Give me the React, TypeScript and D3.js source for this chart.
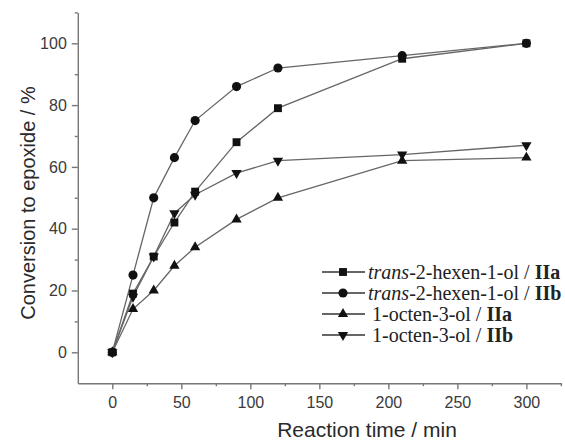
import React, {useEffect, useRef} from 'react';
import * as d3 from 'd3';

// reaction times (min) and conversions (%)
const times = [0, 15, 30, 45, 60, 90, 120, 210, 300];
const hexenIIa = [0, 19, 31, 42, 52, 68, 79, 95, 100];
const hexenIIb = [0, 25, 50, 63, 75, 86, 92, 96, 100];
const octenIIa = [0, 14, 20, 28, 34, 43, 50, 62, 63];
const octenIIb = [0, 18, 31, 45, 51, 58, 62, 64, 67];

const xTicks = [0, 50, 100, 150, 200, 250, 300];
const xMinor = [25, 75, 125, 175, 225, 275, 325];
const yTicks = [0, 20, 40, 60, 80, 100];
const yMinor = [10, 30, 50, 70, 90, 110];

const series = [
  {values: hexenIIa, symbol: d3.symbolSquare, size: 62, rotate: 0, italic: 'trans', text: '-2-hexen-1-ol / ', bold: 'IIa'},
  {values: hexenIIb, symbol: d3.symbolCircle, size: 66, rotate: 0, italic: 'trans', text: '-2-hexen-1-ol / ', bold: 'IIb'},
  {values: octenIIa, symbol: d3.symbolTriangle, size: 46, rotate: 0, italic: '', text: '1-octen-3-ol / ', bold: 'IIa'},
  {values: octenIIb, symbol: d3.symbolTriangle, size: 46, rotate: 180, italic: '', text: '1-octen-3-ol / ', bold: 'IIb'}
];

const W = 565;
const H = 441;

export default function App() {
  const ref = useRef<SVGSVGElement>(null);

  useEffect(() => {
    const svg = d3.select(ref.current);
    svg.selectAll('*').remove();

    const x = d3.scaleLinear().domain([-25, 325]).range([77.8, 560.9]);
    const y = d3.scaleLinear().domain([-10, 110]).range([383.2, 12.4]);

    const axisColor = '#777';
    const sans = '"Liberation Sans", Arial, sans-serif';

    // axes
    const gx = svg.append('g').attr('transform', `translate(0,${y(-10)})`);
    gx.call(d3.axisBottom(x).tickValues(xTicks).tickSize(6).tickSizeOuter(0).tickPadding(7));
    const gxm = svg.append('g').attr('transform', `translate(0,${y(-10)})`);
    gxm.call(d3.axisBottom(x).tickValues(xMinor).tickSize(3).tickSizeOuter(0).tickFormat(() => ''));
    gxm.select('.domain').remove();

    const gy = svg.append('g').attr('transform', `translate(${x(-25)},0)`);
    gy.call(d3.axisLeft(y).tickValues(yTicks).tickSize(6).tickSizeOuter(0).tickPadding(5));
    const gym = svg.append('g').attr('transform', `translate(${x(-25)},0)`);
    gym.call(d3.axisLeft(y).tickValues(yMinor).tickSize(3).tickSizeOuter(0).tickFormat(() => ''));
    gym.select('.domain').remove();

    svg.selectAll('.domain, .tick line')
      .attr('stroke', axisColor)
      .attr('stroke-width', 1.4);
    svg.selectAll('.tick text')
      .attr('fill', '#3a3a3a')
      .style('font-family', sans)
      .style('font-size', '16px');

    // axis titles
    svg.append('text')
      .attr('x', 367)
      .attr('y', 437)
      .attr('text-anchor', 'middle')
      .attr('fill', '#2a2a2a')
      .style('font-family', sans)
      .style('font-size', '21px')
      .text('Reaction time / min');

    svg.append('text')
      .attr('transform', 'translate(35,203) rotate(-90)')
      .attr('text-anchor', 'middle')
      .attr('fill', '#2a2a2a')
      .style('font-family', sans)
      .style('font-size', '20px')
      .text('Conversion to epoxide / %');

    // lines and markers
    const line = d3.line<number>()
      .x((d, i) => x(times[i]))
      .y(d => y(d));

    series.forEach(s => {
      svg.append('path')
        .attr('d', line(s.values))
        .attr('fill', 'none')
        .attr('stroke', '#666')
        .attr('stroke-width', 1.3);
    });

    series.forEach(s => {
      const sym = d3.symbol().type(s.symbol).size(s.size);
      svg.append('g')
        .selectAll('path')
        .data(s.values)
        .enter()
        .append('path')
        .attr('d', sym)
        .attr('fill', '#111')
        .attr('transform', (d, i) => `translate(${x(times[i])},${y(d)}) rotate(${s.rotate})`);
    });

    // legend
    const legend = svg.append('g');
    series.forEach((s, i) => {
      const cy = 272 + i * 21;
      legend.append('line')
        .attr('x1', 322)
        .attr('x2', 365)
        .attr('y1', cy)
        .attr('y2', cy)
        .attr('stroke', '#333')
        .attr('stroke-width', 1.3);
      legend.append('path')
        .attr('d', d3.symbol().type(s.symbol).size(s.size)())
        .attr('fill', '#111')
        .attr('transform', `translate(343,${cy}) rotate(${s.rotate})`);
      const t = legend.append('text')
        .attr('x', s.italic ? 368 : 372)
        .attr('y', cy + 6.5)
        .attr('fill', '#222')
        .style('font-family', '"Liberation Serif", "Times New Roman", serif')
        .style('font-size', '20px');
      if (s.italic) t.append('tspan').style('font-style', 'italic').text(s.italic);
      t.append('tspan').text(s.text);
      t.append('tspan').style('font-weight', 'bold').text(s.bold);
    });
  }, []);

  return (
    <svg
      ref={ref}
      width={W}
      height={H}
      style={{position: 'absolute', left: 0, top: 0, background: '#fff'}}
    />
  );
}
